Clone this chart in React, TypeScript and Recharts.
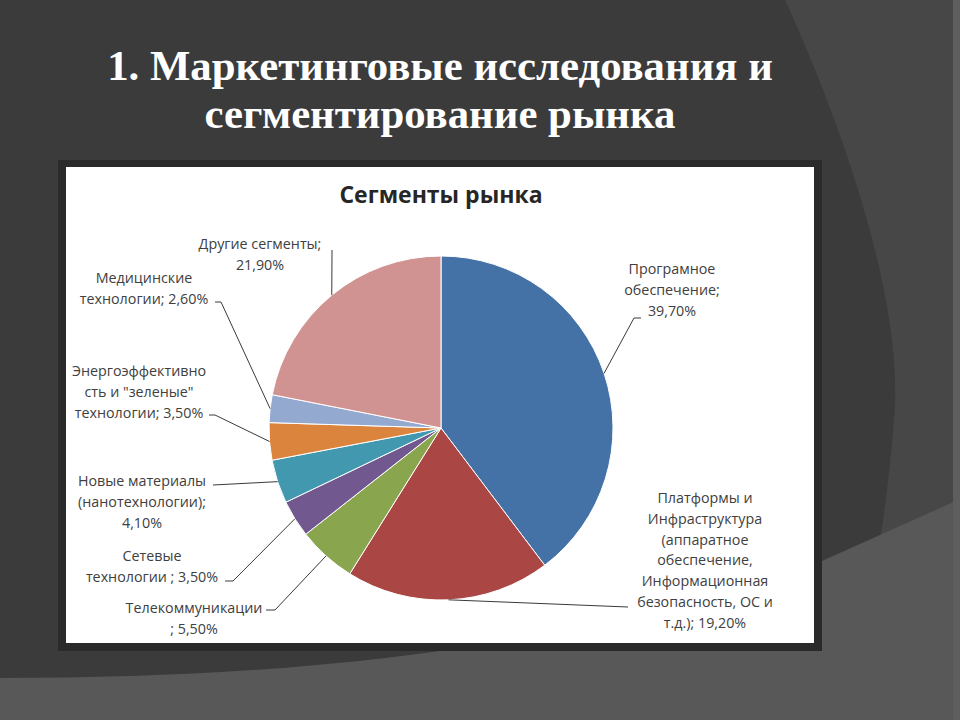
import React from 'react';
import { PieChart, Pie, Cell } from 'recharts';

const segments = [
  'Програмное обеспечение',
  'Платформы и Инфраструктура',
  'Телекоммуникации',
  'Сетевые технологии',
  'Новые материалы',
  'Энергоэффективность',
  'Медицинские технологии',
  'Другие сегменты',
];
const shares = [39.7, 19.2, 5.5, 3.5, 4.1, 3.5, 2.6, 21.9];
// label text lines, {v} is replaced by the value
const labelLines = [
  ['Програмное', 'обеспечение;', '{v}'],
  ['Платформы и', 'Инфраструктура', '(аппаратное', 'обеспечение,', 'Информационная', 'безопасность, ОС и', 'т.д.); {v}'],
  ['Телекоммуникации', '; {v}'],
  ['Сетевые', 'технологии ; {v}'],
  ['Новые материалы', '(нанотехнологии);', '{v}'],
  ['Энергоэффективно', 'сть и "зеленые"', 'технологии; {v}'],
  ['Медицинские', 'технологии; {v}'],
  ['Другие сегменты;', '{v}'],
];
const colors = ['#4471a6', '#aa4643', '#89a54e', '#71588f', '#4198af', '#db843d', '#93a9cf', '#d19392'];

// label placement in page coordinates: text centre x, first line y, leader points
const labelLayout = [
  { x: 672, y: 268, pts: [[634, 318], [641, 318]] },
  { x: 705, y: 497, pts: [[628, 607]] },
  { x: 194, y: 607, pts: [[275, 610], [266, 610]] },
  { x: 152, y: 555, pts: [[233, 581], [225, 581]] },
  { x: 142, y: 480, pts: [[213, 485]] },
  { x: 139, y: 370, pts: [[215, 415], [209, 415]] },
  { x: 144, y: 277, pts: [[221, 302], [215, 302]] },
  { x: 260, y: 243, pts: [[332, 250]] },
];

const data = segments.map((name, i) => ({ name, value: shares[i] }));

const OX = 66;
const OY = 167;
const RADIAN = Math.PI / 180;

const fmt = (v: number) => v.toFixed(2).replace('.', ',') + '%';

function renderLabel(props: any) {
  const { cx, cy, midAngle, outerRadius, index, value } = props;
  const sx = cx + outerRadius * Math.cos(-midAngle * RADIAN);
  const sy = cy + outerRadius * Math.sin(-midAngle * RADIAN);
  const lay = labelLayout[index];
  const pts = [[sx, sy], ...lay.pts.map(([px, py]) => [px - OX, py - OY])];
  const lines = labelLines[index];
  return (
    <g key={`lbl-${index}`}>
      <polyline
        points={pts.map((p) => p.join(',')).join(' ')}
        fill="none"
        stroke="#3a3a3a"
        strokeWidth={1}
      />
      <text
        x={lay.x - OX}
        y={lay.y - OY}
        textAnchor="middle"
        dominantBaseline="central"
        fill="#404040"
        fontSize={14.3}
        fontFamily="'Open Sans', sans-serif"
      >
        {lines.map((l, j) => (
          <tspan key={j} x={lay.x - OX} dy={j === 0 ? 0 : 20.8}>
            {l.replace('{v}', fmt(value))}
          </tspan>
        ))}
      </text>
    </g>
  );
}

export default function App() {
  return (
    <div style={{ position: 'absolute', left: 0, top: 0, width: 960, height: 720, overflow: 'hidden' }}>
      <svg width={960} height={720} style={{ position: 'absolute', left: 0, top: 0 }}>
        <rect x={0} y={0} width={960} height={720} fill="#3b3b3b" />
        <path d="M785,0 C840,120 905,300 894,420 C890,470 885,510 880,540 L960,499 L960,0 Z" fill="#474747" />
        <path d="M0,678 C300,678 560,650 822,561 L960,499 L960,720 L0,720 Z" fill="#585858" />
        <rect x={953} y={0} width={7} height={720} fill="#5e5e5e" />
        <text
          x={440}
          y={65}
          textAnchor="middle"
          dominantBaseline="central"
          fill="#ffffff"
          fontSize={42.8}
          fontWeight="bold"
          fontFamily="'Liberation Serif', serif"
        >
          1. Маркетинговые исследования и
        </text>
        <text
          x={440}
          y={113}
          textAnchor="middle"
          dominantBaseline="central"
          fill="#ffffff"
          fontSize={42.8}
          fontWeight="bold"
          fontFamily="'Liberation Serif', serif"
        >
          сегментирование рынка
        </text>
      </svg>
      <div style={{ position: 'absolute', left: 58, top: 160, width: 764, height: 491, background: '#2a2a2a' }} />
      <div style={{ position: 'absolute', left: OX, top: OY, width: 748, height: 476, background: '#ffffff' }}>
        <div
          style={{
            position: 'absolute',
            left: 0,
            width: 750,
            top: 12,
            textAlign: 'center',
            fontFamily: "'Open Sans', sans-serif",
            fontWeight: 'bold',
            fontSize: 23,
            color: '#262626',
            lineHeight: '30px',
          }}
        >
          Сегменты рынка
        </div>
        <div style={{ position: 'absolute', left: 0, top: 0 }}>
          <PieChart width={748} height={476} margin={{ top: 0, right: 0, bottom: 0, left: 0 }}>
            <Pie
              data={data}
              dataKey="value"
              nameKey="name"
              cx={441 - OX}
              cy={428 - OY}
              outerRadius={172}
              startAngle={90}
              endAngle={-270}
              stroke="#ffffff"
              strokeWidth={1}
              label={renderLabel}
              labelLine={false}
              isAnimationActive={false}
            >
              {data.map((d, i) => (
                <Cell key={d.name} fill={colors[i]} />
              ))}
            </Pie>
          </PieChart>
        </div>
      </div>
    </div>
  );
}
